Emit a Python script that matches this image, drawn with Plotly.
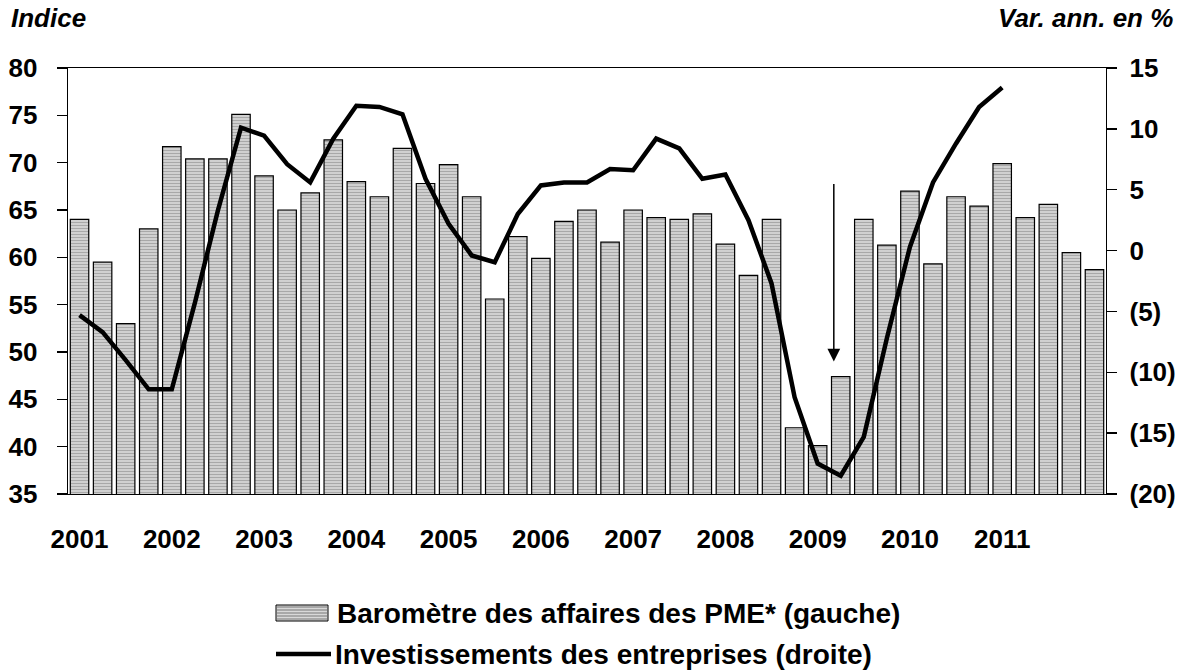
import plotly.graph_objects as go

# ---------------- data ----------------
quarters = [f"{y}T{q}" for y in range(2001, 2012) for q in range(1, 5)] + ["2012T1"]
year_ticks = [f"{y}T1" for y in range(2001, 2012)]
year_labels = [str(y) for y in range(2001, 2012)]

barometre = [64.0, 59.5, 53.0, 63.0, 71.7, 70.4, 70.4, 75.1, 68.6, 65.0,
             66.8, 72.4, 68.0, 66.4, 71.5, 67.8, 69.8, 66.4, 55.6, 62.2,
             59.9, 63.8, 65.0, 61.6, 65.0, 64.2, 64.0, 64.6, 61.4, 58.1,
             64.0, 42.0, 40.1, 47.4, 64.0, 61.3, 67.0, 59.3, 66.4, 65.4,
             69.9, 64.2, 65.6, 60.5, 58.7]

investissements = [-5.3, -6.7, -9.0, -11.4, -11.4, -4.3, 3.3, 10.1, 9.45, 7.1,
                   5.6, 9.2, 11.9, 11.8, 11.2, 5.9, 2.2, -0.4, -0.96, 3.0,
                   5.35, 5.6, 5.6, 6.7, 6.6, 9.2, 8.4, 5.9, 6.25, 2.5,
                   -2.7, -12.05, -17.5, -18.5, -15.3, -7.2, 0.3, 5.6, 8.8, 11.8,
                   13.4]

left_ticks = [35, 40, 45, 50, 55, 60, 65, 70, 75, 80]
right_ticks = [-20, -15, -10, -5, 0, 5, 10, 15]
right_labels = ["(20)", "(15)", "(10)", "(5)", "0", "5", "10", "15"]

name_bar = "Baromètre des affaires des PME* (gauche)"
name_line = "Investissements des entreprises (droite)"

# ---------------- layout geometry (page pixels) ----------------
W, H = 1183, 672
L, R, T, B = 68, 1106, 68, 494
FONT = "Liberation Sans, Arial, sans-serif"
FS = 26
FS_LEG = 28

def px(x):
    return (x - L) / (R - L)

def py(y):
    return (B - y) / (B - T)

fig = go.Figure()

fig.add_trace(go.Bar(
    x=quarters, y=barometre, name=name_bar, yaxis="y",
    marker=dict(color="#d0d0d0", line=dict(color="black", width=1.2),
                pattern=dict(shape="-", fgcolor="#787878", bgcolor="#d8d8d8",
                             size=3, solidity=0.45)),
    showlegend=False,
))

fig.add_trace(go.Scatter(
    x=quarters[:len(investissements)], y=investissements, name=name_line,
    yaxis="y2", mode="lines",
    line=dict(color="black", width=4.5),
    showlegend=False,
))

annotations = [
    dict(text="<b><i>Indice</i></b>", xref="paper", yref="paper",
         x=px(9), y=py(18), xanchor="left", yanchor="middle",
         showarrow=False, font=dict(family=FONT, size=FS, color="black")),
    dict(text="<b><i>Var. ann. en %</i></b>", xref="paper", yref="paper",
         x=px(1175), y=py(18), xanchor="right", yanchor="middle",
         showarrow=False, font=dict(family=FONT, size=FS, color="black")),
    # arrow
    dict(x=32.7, y=49.0, ax=32.7, ay=67.9, xref="x", yref="y",
         axref="x", ayref="y", text="", showarrow=True,
         arrowhead=2, arrowsize=1.7, arrowwidth=1.5, arrowcolor="black"),
    # legend texts
    dict(text="<b>" + name_bar + "</b>", xref="paper", yref="paper",
         x=px(335), y=py(613), xanchor="left", yanchor="middle",
         showarrow=False, font=dict(family=FONT, size=FS_LEG, color="black")),
    dict(text="<b>" + name_line + "</b>", xref="paper", yref="paper",
         x=px(333), y=py(654), xanchor="left", yanchor="middle",
         showarrow=False, font=dict(family=FONT, size=FS_LEG, color="black")),
]

shapes = []
# legend swatch for bars
shapes.append(dict(type="rect", xref="paper", yref="paper",
                   x0=px(276), x1=px(328), y0=py(621), y1=py(605),
                   fillcolor="#d8d8d8", line=dict(color="black", width=1)))
for yy in range(607, 621, 3):
    shapes.append(dict(type="line", xref="paper", yref="paper",
                       x0=px(277), x1=px(327), y0=py(yy), y1=py(yy),
                       line=dict(color="#787878", width=1.2)))
# legend swatch for line
shapes.append(dict(type="line", xref="paper", yref="paper",
                   x0=px(276), x1=px(331), y0=py(654), y1=py(654),
                   line=dict(color="black", width=4.5)))

fig.update_layout(
    width=W, height=H,
    margin=dict(l=L, r=W - R, t=T, b=H - B, pad=0, autoexpand=False),
    paper_bgcolor="white", plot_bgcolor="white",
    bargap=0.2,
    font=dict(family=FONT, color="black"),
    hovermode=False,
    xaxis=dict(
        type="category", categoryorder="array", categoryarray=quarters,
        tickmode="array", tickvals=year_ticks, ticktext=year_labels,
        ticks="", showline=True, linecolor="black", linewidth=1.3, mirror=True,
        showgrid=False, zeroline=False, automargin=False,
        tickfont=dict(family=FONT, size=FS, color="black", weight="bold"),
        ticklabelstandoff=21,
        range=[-0.5, len(quarters) - 0.5],
    ),
    yaxis=dict(
        range=[35, 80], tickmode="array", tickvals=left_ticks,
        ticks="outside", ticklen=10, tickcolor="black", tickwidth=1.3,
        showline=True, linecolor="black", linewidth=1.3,
        showgrid=False, zeroline=False, automargin=False,
        tickfont=dict(family=FONT, size=FS, color="black", weight="bold"),
        ticklabelstandoff=14,
    ),
    yaxis2=dict(
        range=[-20, 15], overlaying="y", side="right",
        tickmode="array", tickvals=right_ticks, ticktext=right_labels,
        ticks="outside", ticklen=10, tickcolor="black", tickwidth=1.3,
        showline=True, linecolor="black", linewidth=1.3,
        showgrid=False, zeroline=False, automargin=False,
        tickfont=dict(family=FONT, size=FS, color="black", weight="bold"),
        ticklabelstandoff=7,
    ),
    annotations=annotations,
    shapes=shapes,
    showlegend=False,
)

fig.write_html("out.html",
               config={"displayModeBar": False, "staticPlot": True},
               post_script="document.body.style.margin='0px';"
                           "document.body.style.padding='0px';")
